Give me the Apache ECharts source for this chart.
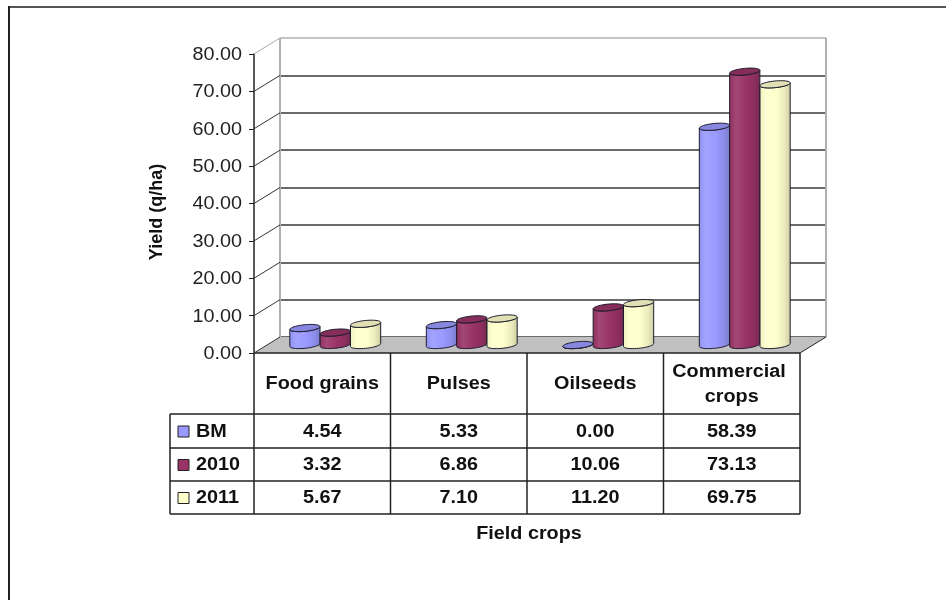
<!DOCTYPE html>
<html>
<head>
<meta charset="utf-8">
<title>Yield of field crops</title>
<script src="https://cdn.jsdelivr.net/npm/echarts@6/dist/echarts.min.js"></script>
<style>
  html, body { margin: 0; padding: 0; background: #ffffff; }
  #chart { width: 946px; height: 600px; }
</style>
</head>
<body>
<div id="chart"></div>
<script>
// ---- data ----
const categories = ['Food grains', 'Pulses', 'Oilseeds', 'Commercial crops'];
const seriesNames = ['BM', '2010', '2011'];
const bmValues = [4.54, 5.33, 0.00, 58.39];
const y2010Values = [3.32, 6.86, 10.06, 73.13];
const y2011Values = [5.67, 7.10, 11.20, 69.75];
const yTicks = [0, 10, 20, 30, 40, 50, 60, 70, 80];
const xAxisTitle = 'Field crops';
const yAxisTitle = 'Yield (q/ha)';

// ---- styling / layout ----
const seriesColors = ['#9999FF', '#993366', '#FFFFCC'];
const allValues = [bmValues, y2010Values, y2011Values];
const FONT = 'bold 18px "Liberation Sans", Arial, sans-serif';
const FONT_REG = '18px "Liberation Sans", Arial, sans-serif';
const STRETCH = 1.1;           // text is drawn slightly wide
const PL = 254, PR = 800, PT = 54, PB = 353;   // front plane of the plot
const DX = 26, DY = -16;       // depth offset of the back wall
const PW = PR - PL, PH = PB - PT;
const TILT = -0.1;             // tilt of the cylinder end caps

const chart = echarts.init(document.getElementById('chart'));

function hex2rgb(h) {
  h = h.replace('#', '');
  return [0, 2, 4].map(i => parseInt(h.substr(i, 2), 16));
}
function shade(hex, f) {
  // f > 0 lightens toward white, f < 0 darkens toward black
  const c = hex2rgb(hex).map(v => f >= 0 ? v + (255 - v) * f : v * (1 + f));
  return 'rgb(' + c.map(v => Math.round(Math.max(0, Math.min(255, v)))).join(',') + ')';
}

function ellPt(cx, cy, rx, ry, t) {
  const px = rx * Math.cos(t), py = ry * Math.sin(t);
  return [cx + px * Math.cos(TILT) - py * Math.sin(TILT),
          cy + px * Math.sin(TILT) + py * Math.cos(TILT)];
}

function cylinderRenderer(si) {
  const base = seriesColors[si];
  const bodyFill = new echarts.graphic.LinearGradient(0, 0, 1, 0, [
    { offset: 0, color: shade(base, -0.06) },
    { offset: 0.22, color: shade(base, 0.1) },
    { offset: 0.55, color: base },
    { offset: 0.8, color: shade(base, -0.08) },
    { offset: 1, color: shade(base, -0.2) }
  ]);
  const topFill = shade(base, -0.12);
  return function (params, api) {
    const c = api.value(0), v = api.value(1);
    const p0 = api.coord([c, 0]);
    const p1 = api.coord([c, v]);
    const band = api.size([1, 0])[0];
    const w = band / 4.5;
    const rx = w / 2, ry = 3.3;
    const cx = p0[0] + (si - 1) * w;
    const t0 = Math.atan(-ry * Math.sin(TILT) / (rx * Math.cos(TILT)));
    const N = 24;
    const body = [];
    for (let k = 0; k <= N; k++) body.push(ellPt(cx, p0[1], rx, ry, t0 + Math.PI * k / N));
    for (let k = N; k >= 0; k--) body.push(ellPt(cx, p1[1], rx, ry, t0 + Math.PI * k / N));
    const cap = [];
    for (let k = 0; k < 2 * N; k++) cap.push(ellPt(cx, p1[1], rx, ry, Math.PI * k / N));
    return {
      type: 'group',
      children: [
        { type: 'polygon', shape: { points: body },
          style: { fill: bodyFill, stroke: '#1c1c2c', lineWidth: 1 } },
        { type: 'polygon', shape: { points: cap },
          style: { fill: topFill, stroke: '#1c1c2c', lineWidth: 1 } }
      ]
    };
  };
}

const cylinderSeries = seriesNames.map((name, si) => ({
  name: name,
  type: 'custom',
  xAxisIndex: 2,
  yAxisIndex: 2,
  z: 3,
  clip: false,
  renderItem: cylinderRenderer(si),
  encode: { x: 0, y: 1 },
  data: allValues[si].map((v, i) => [i, v])
}));

// floor and the side edges of the back wall
const floorSeries = {
  type: 'custom',
  xAxisIndex: 0,
  yAxisIndex: 0,
  z: 1,
  clip: false,
  silent: true,
  renderItem: function (params, api) {
    const cs = params.coordSys;
    const y0 = api.coord([0, yTicks[0]])[1];
    const yT = api.coord([0, yTicks[yTicks.length - 1]])[1];
    const x0 = cs.x, x1 = cs.x + cs.width;
    return {
      type: 'group',
      children: [
        { type: 'polygon',
          shape: { points: [[x0, y0], [x1, y0], [x1 + DX, y0 + DY], [x0 + DX, y0 + DY]] },
          style: { fill: '#c0c0c0' } },
        { type: 'line', shape: { x1: x0 + DX, y1: y0 + DY, x2: x0 + DX, y2: yT + DY },
          style: { stroke: '#b0b0b0', lineWidth: 2 } },
        { type: 'line', shape: { x1: x1 + DX, y1: y0 + DY, x2: x1 + DX, y2: yT + DY },
          style: { stroke: '#b0b0b0', lineWidth: 2 } },
        { type: 'line', shape: { x1: x1, y1: y0, x2: x1 + DX, y2: y0 + DY },
          style: { stroke: '#222', lineWidth: 1 } },
        { type: 'line', shape: { x1: x0, y1: y0, x2: x1, y2: y0 },
          style: { stroke: '#222', lineWidth: 1.5 } }
      ]
    };
  },
  data: [[0, 0]]
};

// receding tick lines and the value labels of the front axis
const tickSeries = {
  type: 'custom',
  xAxisIndex: 0,
  yAxisIndex: 0,
  z: 2,
  clip: false,
  silent: true,
  renderItem: function (params, api) {
    const cs = params.coordSys;
    const v = api.value(1);
    const y = api.coord([0, v])[1];
    const x = cs.x;
    const isTop = v === yTicks[yTicks.length - 1];
    return {
      type: 'group',
      children: [
        { type: 'line', shape: { x1: x, y1: y, x2: x + DX, y2: y + DY },
          style: { stroke: isTop ? '#a8a8a8' : '#333', lineWidth: 1 } },
        { type: 'text', x: x - 12, y: y + 1, scaleX: STRETCH,
          style: { text: v.toFixed(2), font: FONT_REG, fill: '#222',
                   align: 'right', verticalAlign: 'middle' } }
      ]
    };
  },
  encode: { x: 0, y: 1 },
  data: yTicks.map(v => [0, v])
};

// ---- data table under the plot ----
const colEdges = categories.map((c, i) => PL + PW * i / categories.length).concat([PR]);
const rowEdges = [PB, 414, 448, 481, 514];
const LEG_L = 170;
const graphics = [];
const LINE = { stroke: '#222', lineWidth: 1.5 };
colEdges.forEach(x => graphics.push({ type: 'line', shape: { x1: x, y1: PB, x2: x, y2: rowEdges[4] }, style: LINE }));
graphics.push({ type: 'line', shape: { x1: LEG_L, y1: rowEdges[1], x2: LEG_L, y2: rowEdges[4] }, style: LINE });
rowEdges.slice(1).forEach(y => graphics.push({ type: 'line', shape: { x1: LEG_L, y1: y, x2: PR, y2: y }, style: LINE }));

categories.forEach((name, i) => {
  const cx = (colEdges[i] + colEdges[i + 1]) / 2;
  graphics.push({ type: 'text', x: cx, y: (rowEdges[0] + rowEdges[1]) / 2 + 1, scaleX: STRETCH,
    style: { text: name, font: FONT, fill: '#111', align: 'center', verticalAlign: 'middle',
             width: (colEdges[1] - colEdges[0] - 12) / STRETCH, overflow: 'break', lineHeight: 25 } });
});
seriesNames.forEach((name, r) => {
  const cy = (rowEdges[r + 1] + rowEdges[r + 2]) / 2 + 1;
  graphics.push({ type: 'rect', shape: { x: 178, y: cy - 6, width: 11, height: 11 },
    style: { fill: seriesColors[r], stroke: '#222', lineWidth: 1 } });
  graphics.push({ type: 'text', x: 196, y: cy, scaleX: STRETCH,
    style: { text: name, font: FONT, fill: '#111', align: 'left', verticalAlign: 'middle' } });
  allValues[r].forEach((v, i) => {
    const cx = (colEdges[i] + colEdges[i + 1]) / 2;
    graphics.push({ type: 'text', x: cx, y: cy, scaleX: STRETCH,
      style: { text: v.toFixed(2), font: FONT, fill: '#111', align: 'center', verticalAlign: 'middle' } });
  });
});

// axis titles
graphics.push({ type: 'text', x: 529, y: 534, scaleX: STRETCH,
  style: { text: xAxisTitle, font: FONT, fill: '#111', align: 'center', verticalAlign: 'middle' } });
graphics.push({ type: 'text', x: 157, y: 212, rotation: Math.PI / 2,
  style: { text: yAxisTitle, font: FONT, fill: '#111', align: 'center', verticalAlign: 'middle' } });

// outer frame
graphics.push({ type: 'line', shape: { x1: 9, y1: 7, x2: 946, y2: 7 }, style: { stroke: '#555', lineWidth: 2 } });
graphics.push({ type: 'line', shape: { x1: 9, y1: 6, x2: 9, y2: 600 }, style: { stroke: '#222', lineWidth: 2 } });

const hiddenCat = {
  type: 'category', data: categories,
  axisLine: { show: false }, axisTick: { show: false }, axisLabel: { show: false }, splitLine: { show: false }
};
const valueBase = { type: 'value', min: yTicks[0], max: yTicks[yTicks.length - 1], interval: yTicks[1] - yTicks[0] };

chart.setOption({
  animation: false,
  backgroundColor: '#ffffff',
  grid: [
    { left: PL, top: PT, width: PW, height: PH, outerBoundsMode: 'none' },
    { left: PL + DX, top: PT + DY, width: PW, height: PH, outerBoundsMode: 'none' },
    { left: PL + DX / 2, top: PT + DY / 2, width: PW, height: PH, outerBoundsMode: 'none' }
  ],
  xAxis: [
    Object.assign({ gridIndex: 0 }, hiddenCat),
    Object.assign({ gridIndex: 1 }, hiddenCat),
    Object.assign({ gridIndex: 2 }, hiddenCat)
  ],
  yAxis: [
    Object.assign({ gridIndex: 0,
      axisLine: { show: true, lineStyle: { color: '#222', width: 1.5 } },
      axisTick: { show: true, length: 5, lineStyle: { color: '#222' } },
      axisLabel: { show: false }, splitLine: { show: false } }, valueBase),
    Object.assign({ gridIndex: 1,
      axisLine: { show: false }, axisTick: { show: false }, axisLabel: { show: false },
      splitLine: { show: true, lineStyle: {
        width: 1.5,
        color: yTicks.map((v, i) => i === yTicks.length - 1 ? '#b0b0b0' : '#3a3a3a') } } }, valueBase),
    Object.assign({ gridIndex: 2,
      axisLine: { show: false }, axisTick: { show: false }, axisLabel: { show: false },
      splitLine: { show: false } }, valueBase)
  ],
  series: [floorSeries, tickSeries].concat(cylinderSeries),
  graphic: { elements: graphics }
});
</script>
</body>
</html>
